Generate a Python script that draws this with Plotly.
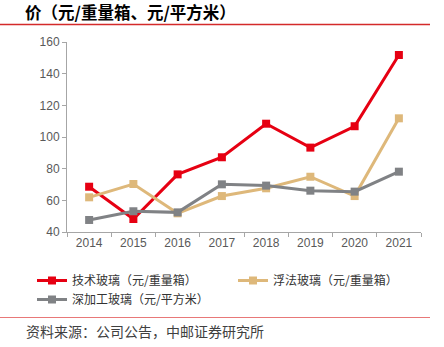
import plotly.graph_objects as go

# Price series, 2014-2021
years = ["2014", "2015", "2016", "2017", "2018", "2019", "2020", "2021"]
tech_glass = [68.6, 48.2, 76.4, 87.2, 108.4, 93.3, 106.8, 151.8]      # 技术玻璃（元/重量箱）
float_glass = [61.9, 70.3, 51.8, 62.7, 67.6, 74.9, 62.7, 111.8]      # 浮法玻璃（元/重量箱）
deep_glass = [47.6, 53.1, 52.4, 70.1, 69.3, 66.1, 65.5, 78.1]        # 深加工玻璃（元/平方米）

series_names = ["技术玻璃（元/重量箱）", "浮法玻璃（元/重量箱）", "深加工玻璃（元/平方米）"]
series_colors = ["#E60012", "#DEB87A", "#808285"]

W, H = 444, 347
L, R, T, B = 67, 23, 42, 115
PW = W - L - R
PH = H - T - B


def px_x(x):
    return (x - L) / PW


def px_y(y):
    return (H - B - y) / PH


fig = go.Figure()
for name, vals, col in zip(series_names, [tech_glass, float_glass, deep_glass], series_colors):
    fig.add_trace(go.Scatter(
        x=years, y=vals, name=name, mode="lines+markers",
        line=dict(color=col, width=3),
        marker=dict(symbol="square", size=8, color=col),
    ))

axis_font = dict(family="Liberation Sans, Arial", size=12, color="#595959")
fig.update_layout(
    width=W, height=H,
    margin=dict(l=L, r=R, t=T, b=B),
    paper_bgcolor="white", plot_bgcolor="white",
    showlegend=True,
    legend=dict(
        orientation="h", x=px_x(32), y=px_y(266), xanchor="left", yanchor="top",
        entrywidth=156, entrywidthmode="pixels", tracegroupgap=0,
        font=dict(family="Noto Sans CJK SC", size=12, color="#333333"),
        bgcolor="rgba(0,0,0,0)",
    ),
    xaxis=dict(
        type="category", range=[-0.5, 7.5], showgrid=False,
        showline=True, linecolor="#A6A6A6", linewidth=1,
        ticks="outside", tickson="boundaries", ticklen=4, tickcolor="#A6A6A6",
        tickfont=axis_font, fixedrange=True,
    ),
    yaxis=dict(
        range=[40, 160], dtick=20, showgrid=False, zeroline=False,
        showline=True, linecolor="#A6A6A6", linewidth=1,
        ticks="outside", ticklen=4, tickcolor="#A6A6A6",
        tickfont=axis_font, fixedrange=True,
    ),
)

# Heading and source notes
fig.add_annotation(
    text="<b>价（元/重量箱、元/平方米）</b>", xref="paper", yref="paper",
    x=px_x(23), y=px_y(12), xanchor="left", yanchor="middle", showarrow=False,
    font=dict(family="Noto Sans CJK SC", size=16.5, color="#000000"),
)
fig.add_annotation(
    text="资料来源：公司公告，中邮证券研究所", xref="paper", yref="paper",
    x=px_x(24), y=px_y(331), xanchor="left", yanchor="middle", showarrow=False,
    font=dict(family="Noto Sans CJK SC", size=14, color="#404040"),
)
fig.add_shape(type="line", xref="paper", yref="paper",
              x0=px_x(0), x1=px_x(430), y0=px_y(24.5), y1=px_y(24.5),
              line=dict(color="#D42A2A", width=1.5))
fig.add_shape(type="line", xref="paper", yref="paper",
              x0=px_x(0), x1=px_x(430), y0=px_y(317.5), y1=px_y(317.5),
              line=dict(color="#E87878", width=1))

fig.write_html("out.html")
